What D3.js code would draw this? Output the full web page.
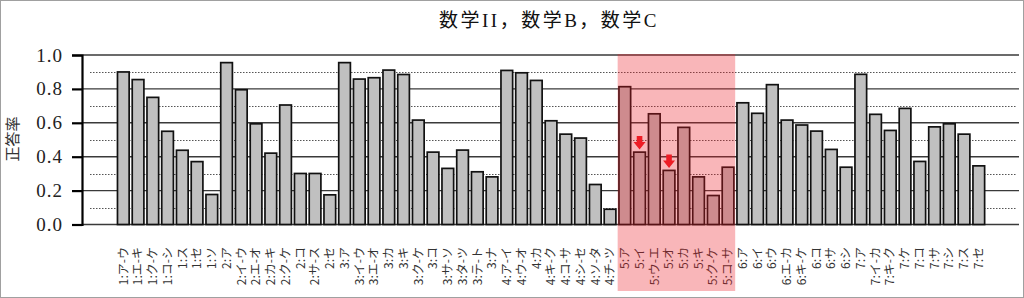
<html>
<head>
<meta charset="utf-8">
<script src="https://d3js.org/d3.v7.min.js"></script>
<style>
  body { margin: 0; background: #fff; }
</style>
</head>
<body>
<div id="chart"></div>
<script>
// items (question numbers) and their correct-answer rates
const categories = [
  "1:ア-ウ", "1:エ-キ", "1:ク-ケ", "1:コ-シ", "1:ス", "1:セ", "1:ソ",
  "2:ア", "2:イ-ウ", "2:エ-オ", "2:カ-キ", "2:ク-ケ", "2:コ", "2:サ-ス", "2:セ",
  "3:ア", "3:イ-ウ", "3:エ-オ", "3:カ", "3:キ", "3:ク-ケ", "3:コ", "3:サ-ソ", "3:タ-ツ", "3:テ-ト", "3:ナ",
  "4:ア-イ", "4:ウ-オ", "4:カ", "4:キ-ク", "4:コ-サ", "4:シ-セ", "4:ソ-タ", "4:チ-ツ",
  "5:ア", "5:イ", "5:ウ-エ", "5:オ", "5:カ", "5:キ", "5:ク-ケ", "5:コ-サ",
  "6:ア", "6:イ", "6:ウ", "6:エ-カ", "6:キ-ケ", "6:コ", "6:サ", "6:シ",
  "7:ア", "7:イ-カ", "7:キ-ク", "7:ケ", "7:コ", "7:サ", "7:シ", "7:ス", "7:セ"
];
const rates = [
  0.900, 0.855, 0.750, 0.550, 0.438, 0.371, 0.177,
  0.955, 0.795, 0.594, 0.421, 0.705, 0.301, 0.301, 0.175,
  0.955, 0.858, 0.866, 0.911, 0.885, 0.616, 0.427, 0.331, 0.439, 0.311, 0.281,
  0.909, 0.895, 0.850, 0.612, 0.533, 0.510, 0.236, 0.090,
  0.813, 0.427, 0.653, 0.319, 0.573, 0.281, 0.171, 0.338,
  0.718, 0.656, 0.825, 0.616, 0.587, 0.551, 0.443, 0.338,
  0.886, 0.650, 0.555, 0.685, 0.372, 0.576, 0.594, 0.533, 0.346
];
const majorTicks = [0, 0.2, 0.4, 0.6, 0.8, 1.0];
const minorTicks = [0.1, 0.3, 0.5, 0.7, 0.9];
const highlighted = ["5:ア", "5:イ", "5:ウ-エ", "5:オ", "5:カ", "5:キ", "5:ク-ケ", "5:コ-サ"];
const arrowed = ["5:イ", "5:オ"];
const title = "数学II，数学B，数学C";
const yTitle = "正答率";

const width = 1024, height = 298;
const plot = {left: 82, right: 1019, top: 55, bottom: 224.5};

const data = categories.map((c, i) => ({cat: c, v: rates[i]}));

const svg = d3.select("#chart").append("svg")
  .attr("width", width)
  .attr("height", height);

// outer frame
svg.append("rect")
  .attr("x", 0.5).attr("y", 0.5)
  .attr("width", width - 1).attr("height", height - 1)
  .attr("fill", "#fff")
  .attr("stroke", "#a0a0a0");

const x = d3.scaleBand()
  .domain(categories)
  .range([115.2, 986.9])
  .padding(0.1);

const y = d3.scaleLinear()
  .domain([0, 1])
  .range([plot.bottom, plot.top]);

// dotted minor grid
svg.append("g")
  .selectAll("line")
  .data(minorTicks)
  .join("line")
  .attr("x1", 90).attr("x2", plot.right - 2)
  .attr("y1", d => Math.round(y(d)) + 0.5)
  .attr("y2", d => Math.round(y(d)) + 0.5)
  .attr("stroke", "#555")
  .attr("stroke-width", 1.2)
  .attr("stroke-dasharray", "1.5,1.5");

// solid major grid
svg.append("g")
  .selectAll("line")
  .data(majorTicks)
  .join("line")
  .attr("x1", plot.left).attr("x2", plot.right)
  .attr("y1", d => y(d))
  .attr("y2", d => y(d))
  .attr("stroke", "#3a3a3a")
  .attr("stroke-width", 1.4);

// y axis
const yAxis = d3.axisLeft(y)
  .tickValues(majorTicks)
  .tickFormat(d3.format(".1f"))
  .tickSizeOuter(0)
  .tickSize(10)
  .tickPadding(9);

const ag = svg.append("g")
  .attr("transform", `translate(${plot.left},0)`)
  .call(yAxis);
ag.select(".domain").attr("stroke", "#000").attr("stroke-width", 2.2);
ag.selectAll(".tick line").attr("stroke", "#000").attr("stroke-width", 2.2);
ag.selectAll(".tick text")
  .attr("font-family", "'Liberation Serif', serif")
  .attr("font-size", 19)
  .attr("letter-spacing", 1)
  .attr("fill", "#222");

// y title
svg.append("text")
  .attr("transform", "translate(13,139) rotate(-90)")
  .attr("text-anchor", "middle")
  .attr("dy", "0.35em")
  .attr("font-family", "'Noto Sans CJK JP', sans-serif")
  .attr("font-size", 15)
  .attr("fill", "#333")
  .text(yTitle);

// title
svg.append("text")
  .attr("x", 549).attr("y", 27)
  .attr("text-anchor", "middle")
  .attr("font-family", "'Liberation Serif', 'Noto Sans CJK JP', serif")
  .attr("font-size", 19)
  .attr("letter-spacing", 2.5)
  .attr("fill", "#111")
  .text(title);

// bars
svg.append("g")
  .selectAll("rect")
  .data(data)
  .join("rect")
  .attr("x", d => x(d.cat) + 0.8)
  .attr("y", d => y(d.v))
  .attr("width", x.bandwidth() - 1.6)
  .attr("height", d => y(0) - y(d.v))
  .attr("fill", "#c0c0c0")
  .attr("stroke", "#111")
  .attr("stroke-width", 1.7);

// x labels, rotated
svg.append("g")
  .selectAll("text")
  .data(categories)
  .join("text")
  .attr("transform", d => `translate(${x(d) + x.bandwidth() / 2},247) rotate(-90)`)
  .attr("text-anchor", "end")
  .attr("dy", "0.35em")
  .attr("font-family", "'Noto Sans CJK JP', sans-serif")
  .attr("font-size", 12)
  .attr("fill", "#333")
  .text(d => d);

// highlight band over section 5
const hx0 = d3.min(highlighted, c => x(c)) - 0.5;
const hx1 = d3.max(highlighted, c => x(c) + x.bandwidth()) + 0.5;
svg.append("rect")
  .attr("x", hx0)
  .attr("y", 54)
  .attr("width", hx1 - hx0)
  .attr("height", 291 - 54)
  .attr("fill", "rgb(237,28,36)")
  .attr("fill-opacity", 0.32);

// red arrows above the flagged bars
const arrowData = data.filter(d => arrowed.includes(d.cat));
svg.append("g")
  .selectAll("path")
  .data(arrowData)
  .join("path")
  .attr("transform", d => `translate(${x(d.cat) + x.bandwidth() / 2},${y(d.v) - 2.5})`)
  .attr("d", "M-2.8,-13.5 L2.8,-13.5 L2.8,-7.5 L6,-7.5 L0,0 L-6,-7.5 L-2.8,-7.5 Z")
  .attr("fill", "#ee1c25");
</script>
</body>
</html>
